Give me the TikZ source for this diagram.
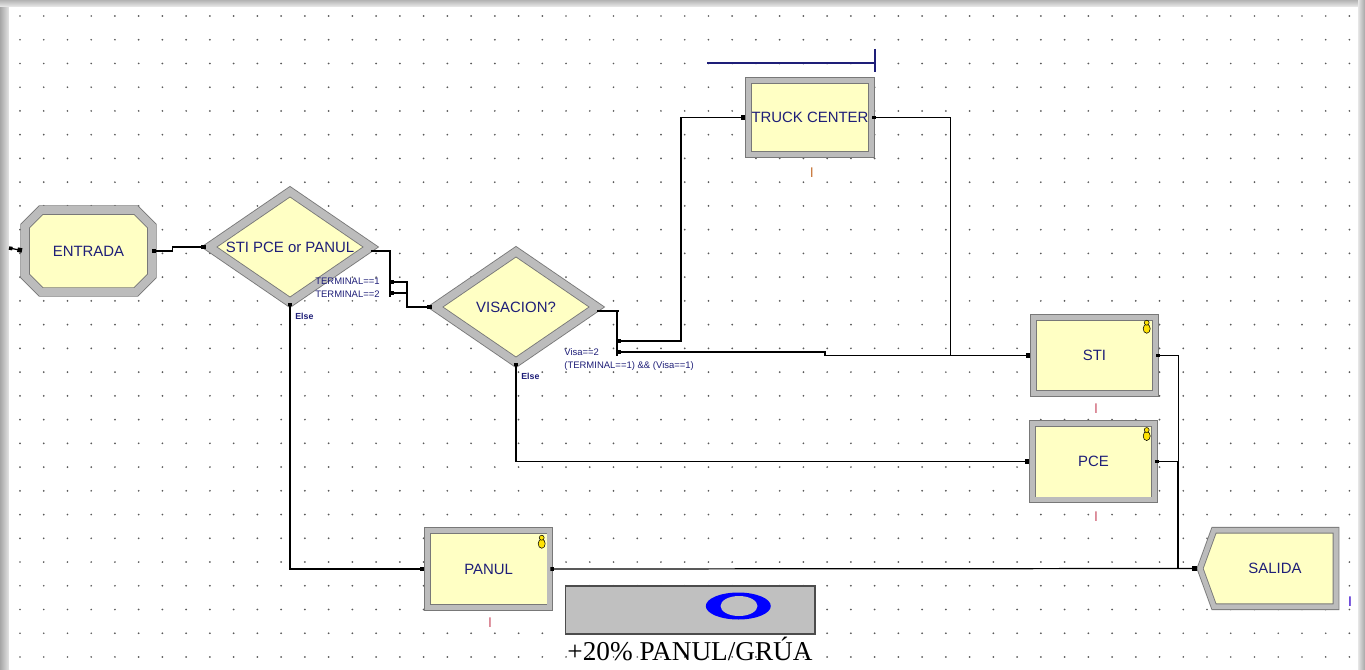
\documentclass[tikz,border=0pt]{standalone}
\usepackage{fontspec}
\setmainfont{Liberation Sans}
\newfontfamily\serifa{Liberation Serif}
\usepackage{xcolor}
\usepackage{tikz}
\usetikzlibrary{arrows.meta,shapes.geometric,shapes.misc,shapes.symbols}
\definecolor{fondoamarillo}{RGB}{255,255,196}
\definecolor{bordegris}{RGB}{120,120,120}
\definecolor{bisel}{RGB}{188,188,188}
\definecolor{textoazul}{RGB}{30,30,120}
\definecolor{cajagris}{RGB}{192,192,192}
\definecolor{contador}{RGB}{205,90,110}
\definecolor{contadortruck}{RGB}{200,120,60}

\begin{document}
\begin{tikzpicture}[x=0.02cm, y=-0.02cm, every node/.style={align=center, text=textoazul}]
\tikzset{
  modulo/.style={draw=bordegris, line width=0.5pt, double=bisel, double distance=2.8pt, fill=fondoamarillo, font=\fontsize{8.5}{10}\selectfont, inner sep=0pt},
  moduloancho/.style={modulo, double distance=4.4pt},
  proceso/.style={modulo, rectangle, minimum width=2.45cm, minimum height=1.53cm},
  decide/.style={moduloancho, diamond, aspect=1.46, minimum width=3.24cm, minimum height=2.22cm},
  conector/.style={draw=black, line width=0.7pt, shorten >=1.5pt, {Square[length=2pt,width=2pt]}-{Square[length=2.6pt,width=2.6pt]}},
  linea/.style={draw=black, line width=0.7pt},
  condicion/.style={font=\fontsize{5.4}{6}\selectfont, inner sep=0pt},
  cuenta/.style={font=\fontsize{8}{9}\selectfont, inner sep=0pt, text=contador},
  icono/.style={fill=yellow!85!orange, draw=black, line width=0.3pt}
}
\useasboundingbox (0,0) rectangle (1365,669);
\shade[left color=gray!70, right color=gray!20] (0,0) rectangle (9,669);
\shade[top color=gray!60, bottom color=gray!15] (0,0) rectangle (1365,7);
\shade[left color=gray!20, right color=gray!70] (1358,0) rectangle (1365,669);
\fill[white] (9,7) rectangle (1358,669);
\foreach \i in {0,...,56}
  \foreach \j in {0,...,27}
    \fill[black!65] (20+23.74*\i,16+23.74*\j) circle[radius=0.55pt];

\node[moduloancho, chamfered rectangle, chamfered rectangle xsep=0.22cm, chamfered rectangle ysep=0.22cm, minimum width=2.54cm, minimum height=1.64cm] (entrada) at (88.5,251) {ENTRADA};
\node[decide] (decision) at (290,247) {STI PCE or PANUL};
\node[decide] (visacion) at (516,307) {VISACION?};
\node[proceso, minimum width=2.47cm, minimum height=1.49cm] (truck) at (810,117.5) {TRUCK CENTER};
\node[proceso] (sti) at (1094.5,355.5) {STI};
\node[proceso] (pce) at (1093.5,461.7) {PCE};
\node[proceso] (panul) at (488.7,569) {PANUL};
\node[modulo, signal, signal to=west, signal pointer angle=140, minimum width=2.72cm, minimum height=1.53cm] (salida) at (1275,568.5) {SALIDA};

\coordinate (bordeizq) at (9,248);
\coordinate (barra1) at (390,251);
\coordinate (t1) at (390,282);
\coordinate (t2) at (390,293);
\coordinate (barra2) at (617,311);
\coordinate (v1) at (617,341);
\coordinate (v2) at (617,352);

\draw[conector] (bordeizq) -- (entrada.west);
\draw[conector] (entrada.east) -- ++(20,0) |- (decision.west);
\draw[linea] (decision.east |- barra1) -- ++(20,0) (barra1) -- ++(0,46);
\draw[conector] (t1) -- ++(17,0) |- (visacion.west);
\draw[linea, {Square[length=2pt,width=2pt]}-] (t2) -- ++(17,0);
\draw[conector] (decision.south) |- (panul.west);
\draw[linea] (visacion.east |- barra2) -- ++(22,0) (barra2) -- ++(0,45);
\draw[conector] (v1) -- ++(64,0) |- (truck.west);
\draw[conector] (v2) -- ++(208,0) |- (sti.west);
\draw[conector] (visacion.south) |- (pce.west);
\draw[conector] (truck.east) -- ++(78,0) |- (sti.west);
\draw[conector] (sti.east) -- ++(22,0) |- (salida.west);
\draw[conector] (pce.east) -- ++(22,0) |- (salida.west);
\draw[conector] (panul.east) -- (salida.west);

\node[condicion, anchor=east] (term1) at (380,281) {TERMINAL==1};
\node[condicion, anchor=east] (term2) at (380,294) {TERMINAL==2};
\node[condicion, anchor=west, font=\bfseries\fontsize{5}{6}\selectfont] (else1) at (295,316) {Else};
\node[condicion, anchor=west] (visa2) at (564,352) {Visa==2};
\node[condicion, anchor=west] (visa1) at (564,366) {(TERMINAL==1) \&\& (Visa==1)};
\node[condicion, anchor=west, font=\bfseries\fontsize{5}{6}\selectfont] (else2) at (521,376) {Else};

\node[cuenta, text=contadortruck] (cuentatruck) at (811.7,173) {I};
\node[cuenta] (cuentasti) at (1096,409) {I};
\node[cuenta] (cuentapce) at (1096,517) {I};
\node[cuenta] (cuentapanul) at (490,623) {I};
\node[cuenta, text=blue!60!violet] (cuentasalida) at (1350,602) {I};

\foreach \px/\py in {1146.7/326.7, 1146.7/434, 541.7/541.7} {
  \filldraw[icono] (\px,\py+2) ellipse[x radius=2pt, y radius=2.6pt];
  \filldraw[icono] (\px,\py-4) circle[radius=1.4pt];
}

\draw[textoazul, line width=0.9pt] (707,63) -- (875,63) (875,49) -- (875,72);

\node[draw=black!70, line width=0.6pt, fill=cajagris, minimum width=5cm, minimum height=0.96cm, inner sep=0pt] (contadorgris) at (690,610) {};
\fill[blue] (738.3,606) ellipse[x radius=0.65cm, y radius=0.27cm];
\fill[cajagris] (739,606) ellipse[x radius=0.37cm, y radius=0.2cm];
\node[font=\serifa\fontsize{15.5}{18}\selectfont, text=black, inner sep=0pt] (rotulo) at (690,649) {+20\% PANUL/GRÚA};
\end{tikzpicture}
\end{document}
